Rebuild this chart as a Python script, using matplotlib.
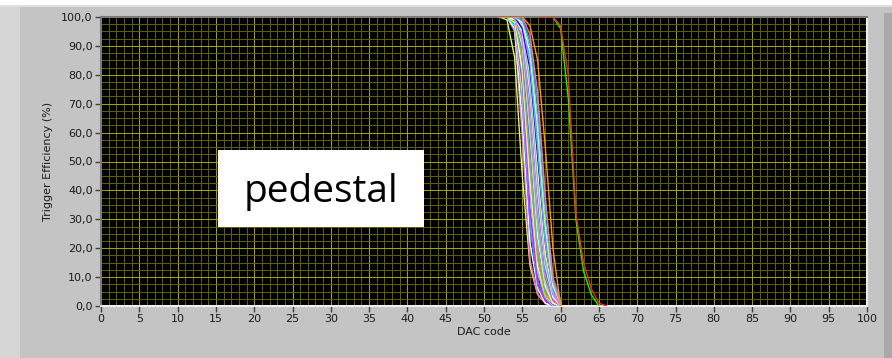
import matplotlib
matplotlib.use("Agg")
import matplotlib.pyplot as plt
from matplotlib.patches import Rectangle
from matplotlib.ticker import MultipleLocator

# ---------------- data ----------------
cluster_codes = [52, 53, 54, 55, 56, 57, 58, 59, 60]
cluster_curves = [
    [100, 99, 86, 45, 14, 4, 1, 0, 0],
    [100, 100, 95, 58, 16, 4, 1, 0, 0],
    [100, 100, 96, 64, 22, 6, 1, 0, 0],
    [100, 100, 97, 70, 30, 9, 2, 0, 0],
    [100, 100, 98, 72, 28, 7, 2, 0, 0],
    [100, 100, 98, 74, 36, 12, 3, 1, 0],
    [100, 100, 99, 77, 34, 9, 2, 0, 0],
    [100, 100, 99, 80, 40, 12, 3, 0, 0],
    [100, 100, 99, 82, 44, 14, 4, 1, 0],
    [100, 100, 100, 85, 48, 16, 4, 1, 0],
    [100, 100, 100, 87, 52, 18, 5, 1, 0],
    [100, 100, 100, 88, 54, 20, 6, 1, 0],
    [100, 100, 100, 89, 57, 24, 8, 2, 0],
    [100, 100, 100, 90, 60, 24, 7, 1, 0],
    [100, 100, 100, 91, 62, 27, 8, 2, 0],
    [100, 100, 100, 92, 64, 30, 9, 2, 0],
    [100, 100, 100, 93, 66, 32, 10, 2, 0],
    [100, 100, 100, 94, 69, 34, 11, 3, 0],
    [100, 100, 100, 95, 72, 38, 12, 3, 0],
    [100, 100, 100, 95, 74, 40, 14, 3, 0],
    [100, 100, 100, 96, 76, 42, 15, 4, 0],
    [100, 100, 100, 97, 78, 45, 16, 4, 1],
    [100, 100, 100, 97, 80, 48, 18, 5, 1],
    [100, 100, 100, 96, 82, 52, 22, 6, 1],
    [100, 100, 100, 98, 84, 55, 22, 5, 0],
    [100, 100, 100, 99, 86, 58, 25, 6, 1],
    [100, 100, 100, 98, 88, 62, 28, 7, 1],
    [100, 100, 100, 99, 90, 65, 30, 8, 1],
    [100, 100, 100, 99, 92, 70, 36, 10, 2],
    [100, 100, 100, 100, 94, 74, 38, 9, 1],
    [100, 100, 100, 100, 97, 85, 55, 20, 0],
]
cluster_colors = [
    "#ccff66", "#ff66cc", "#ffffff", "#00ffff", "#3399ff", "#ffff00",
    "#ff00ff", "#66ccff", "#ffffff", "#ff9900", "#00ff00", "#ff66cc",
    "#0066ff", "#ffffff", "#00ffff", "#ffcc00", "#ff3399", "#99ccff",
    "#3366ff", "#ffffff", "#ff99cc", "#33cccc", "#ffff66", "#0000ff",
    "#ff66ff", "#00ccff", "#ffffff", "#66ff66", "#3399ff", "#ff66cc",
    "#ff9900",
]

red_codes = [57, 58, 59, 60, 61, 62, 63, 64, 65, 66]
red_values = [100, 100, 100, 97, 80, 32, 15, 6, 1, 0]
green_codes = [57, 58, 59, 60, 61, 62, 63, 64, 65]
green_values = [100, 100, 100, 96, 72, 30, 12, 4, 0]

xticks = list(range(0, 101, 5))
yticks = [0, 10, 20, 30, 40, 50, 60, 70, 80, 90, 100]
ytick_labels = ["0,0", "10,0", "20,0", "30,0", "40,0", "50,0",
                "60,0", "70,0", "80,0", "90,0", "100,0"]

# ---------------- figure ----------------
fig = plt.figure(figsize=(8.92, 3.58), dpi=100)
fig.patch.set_facecolor("#c4c4c4")
W, H = 892.0, 358.0
fig.patches.append(Rectangle((0, 0), 20 / W, 353 / H, transform=fig.transFigure,
                             facecolor="#d6d6d6", edgecolor="none", zorder=0))
fig.patches.append(Rectangle((884 / W, 0), 8 / W, 345 / H, transform=fig.transFigure,
                             facecolor="#a9a9a9", edgecolor="none", zorder=0))
fig.patches.append(Rectangle((0, 353 / H), 1, 5 / H, transform=fig.transFigure,
                             facecolor="#ffffff", edgecolor="none", zorder=0))
fig.patches.append(Rectangle((0, 351 / H), 1, 2 / H, transform=fig.transFigure,
                             facecolor="#dedede", edgecolor="none", zorder=0))

ax = fig.add_axes([101 / W, 52 / H, 766 / W, 289 / H])
ax.set_facecolor("black")
ax.set_xlim(0, 100)
ax.set_ylim(0, 100)

ax.xaxis.set_major_locator(MultipleLocator(5))
ax.xaxis.set_minor_locator(MultipleLocator(1))
ax.yaxis.set_major_locator(MultipleLocator(10))
ax.yaxis.set_minor_locator(MultipleLocator(2.5))
ax.grid(True, which="minor", color="#5e5e00", linewidth=0.72, zorder=0)
ax.grid(True, which="major", color="#a2a200", linewidth=0.72, zorder=0)
ax.set_axisbelow(True)

ax.set_xticks(xticks)
ax.set_xticklabels([str(t) for t in xticks])
ax.set_yticks(yticks)
ax.set_yticklabels(ytick_labels)
ax.tick_params(which="major", direction="out", length=4, width=1,
               color="#404040", labelsize=8, labelcolor="#1a1a1a", pad=2)
ax.tick_params(which="minor", length=0)

for side in ("top", "left"):
    ax.spines[side].set_color("#7a7a7a")
    ax.spines[side].set_linewidth(1.5)
for side in ("bottom", "right"):
    ax.spines[side].set_color("#eeeeee")
    ax.spines[side].set_linewidth(1.5)

for vals, col in zip(cluster_curves, cluster_colors):
    ax.plot(cluster_codes, vals, color=col, linewidth=1.0, zorder=3)
ax.plot(green_codes, green_values, color="#00ff00", linewidth=1.0, zorder=4)
ax.plot(red_codes, red_values, color="#ff2020", linewidth=1.0, zorder=5)

ax.add_patch(Rectangle((15.3, 27.3), 26.9, 26.7, facecolor="white",
                       edgecolor="none", zorder=2))
ax.text(28.7, 39.5, "pedestal", fontsize=28, family="Open Sans",
        ha="center", va="center", color="black", zorder=6)

ax.set_xlabel("DAC code", fontsize=8, color="#1a1a1a", labelpad=2)
ax.set_ylabel("Trigger Efficiency (%)", fontsize=8, color="#1a1a1a", labelpad=6)

fig.savefig("out.png", dpi=100, facecolor=fig.get_facecolor())
